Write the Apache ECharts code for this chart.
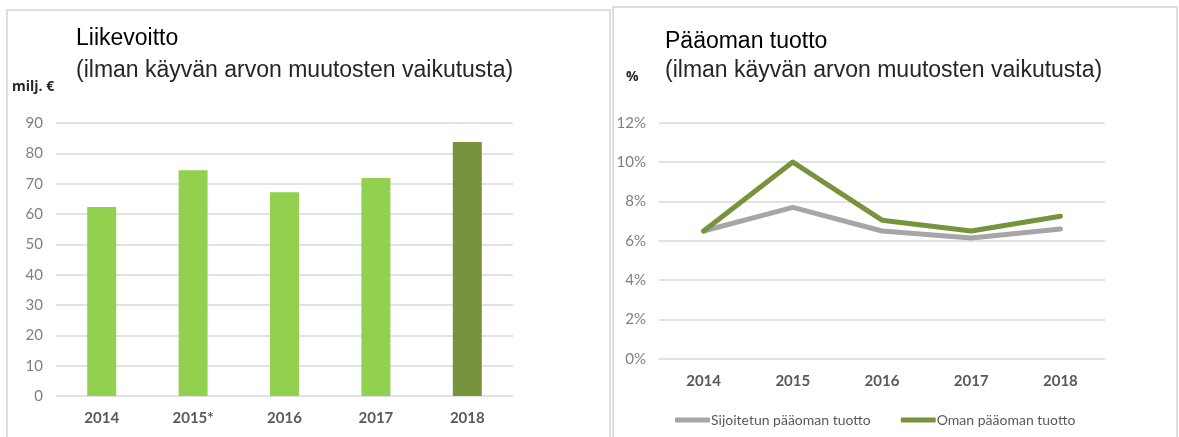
<!DOCTYPE html>
<html>
  <head>
    <meta charset="utf-8" />
    <title>Liikevoitto ja pääoman tuotto</title>
    <script src="https://cdn.jsdelivr.net/npm/echarts@6/dist/echarts.min.js"></script>
    <style>
      * {
        margin: 0;
        padding: 0;
      }
      html,
      body,
      #container {
        width: 1179px;
        height: 437px;
        background: #fff;
      }
    </style>
  </head>
  <body>
    <div id="container"></div>
    <script>
      // data
      const years = ["2014", "2015*", "2016", "2017", "2018"];
      const operatingProfit = [62.3, 74.4, 67.2, 71.9, 83.7]; // milj. €
      const barColors = ["#92d050", "#92d050", "#92d050", "#92d050", "#77933c"];

      const roiYears = ["2014", "2015", "2016", "2017", "2018"];
      const roiInvested = [6.5, 7.7, 6.5, 6.15, 6.6]; // Sijoitetun pääoman tuotto %
      const roiEquity = [6.5, 10.0, 7.05, 6.5, 7.25]; // Oman pääoman tuotto %

      const leftTicks = [0, 10, 20, 30, 40, 50, 60, 70, 80, 90];
      const rightTicks = [0, 2, 4, 6, 8, 10, 12];

      const chart = echarts.init(document.getElementById("container"));

      const axisLabelFont = { fontFamily: "Lato", fontSize: 15, color: "#7f7f7f" };
      const catLabelFont = { fontFamily: "Lato", fontSize: 15, fontWeight: "bold", color: "#595959" };
      const gridLine = { lineStyle: { color: "#d9d9d9", width: 1.5 } };

      chart.setOption({
        animation: false,
        textStyle: { fontFamily: "Liberation Sans" },
        graphic: [
          {
            type: "rect",
            shape: { x: 7, y: 10, width: 603, height: 450 },
            style: { fill: "none", stroke: "#dedede", lineWidth: 2 },
          },
          {
            type: "rect",
            shape: { x: 613, y: 7, width: 564, height: 450 },
            style: { fill: "none", stroke: "#dedede", lineWidth: 2 },
          },
          {
            type: "text",
            left: 12,
            top: 80,
            style: { text: "milj. €", font: "bold 14px 'Open Sans'", fill: "#262626" },
          },
          {
            type: "text",
            left: 626,
            top: 70,
            style: { text: "%", font: "bold 14px 'Open Sans'", fill: "#262626" },
          },
        ],
        title: [
          {
            text: "Liikevoitto",
            left: 76,
            top: 27,
            padding: 0,
            textStyle: { fontSize: 23, lineHeight: 23, fontWeight: "normal", color: "#000" },
          },
          {
            text: "(ilman käyvän arvon muutosten vaikutusta)",
            left: 76,
            top: 59,
            padding: 0,
            textStyle: { fontSize: 23, lineHeight: 23, fontWeight: "normal", color: "#262626" },
          },
          {
            text: "Pääoman tuotto",
            left: 665,
            top: 30,
            padding: 0,
            textStyle: { fontSize: 23, lineHeight: 23, fontWeight: "normal", color: "#000" },
          },
          {
            text: "(ilman käyvän arvon muutosten vaikutusta)",
            left: 665,
            top: 59,
            padding: 0,
            textStyle: { fontSize: 23, lineHeight: 23, fontWeight: "normal", color: "#262626" },
          },
        ],
        legend: {
          left: 670,
          top: 408,
          itemWidth: 35,
          itemHeight: 5,
          itemGap: 30,
          icon: "roundRect",
          data: ["Sijoitetun pääoman tuotto", "Oman pääoman tuotto"],
          textStyle: { fontFamily: "Lato", fontSize: 14, color: "#595959", padding: [0, 0, 0, -4] },
        },
        grid: [
          { left: 56, top: 123, width: 457, height: 273 },
          { left: 659, top: 122.7, width: 446, height: 236.3 },
        ],
        xAxis: [
          {
            type: "category",
            gridIndex: 0,
            data: years,
            axisLine: { show: false },
            axisTick: { show: false },
            axisLabel: Object.assign({ margin: 15 }, catLabelFont),
          },
          {
            type: "category",
            gridIndex: 1,
            data: roiYears,
            axisLine: { show: false },
            axisTick: { show: false },
            axisLabel: Object.assign({ margin: 15 }, catLabelFont),
          },
        ],
        yAxis: [
          {
            type: "value",
            gridIndex: 0,
            min: leftTicks[0],
            max: leftTicks[leftTicks.length - 1],
            interval: 10,
            splitLine: gridLine,
            axisLabel: Object.assign({ margin: 13 }, axisLabelFont),
          },
          {
            type: "value",
            gridIndex: 1,
            min: rightTicks[0],
            max: rightTicks[rightTicks.length - 1],
            interval: 2,
            splitLine: gridLine,
            axisLabel: Object.assign({ margin: 13, formatter: "{value}%" }, axisLabelFont),
          },
        ],
        series: [
          {
            name: "Liikevoitto",
            type: "bar",
            xAxisIndex: 0,
            yAxisIndex: 0,
            barWidth: 29,
            data: operatingProfit.map((v, i) => ({ value: v, itemStyle: { color: barColors[i] } })),
          },
          {
            name: "Sijoitetun pääoman tuotto",
            type: "line",
            xAxisIndex: 1,
            yAxisIndex: 1,
            symbol: "none",
            color: "#a6a6a6",
            lineStyle: { width: 5, color: "#a6a6a6", cap: "round", join: "round" },
            data: roiInvested,
          },
          {
            name: "Oman pääoman tuotto",
            type: "line",
            xAxisIndex: 1,
            yAxisIndex: 1,
            symbol: "none",
            color: "#77933c",
            lineStyle: { width: 5, color: "#77933c", cap: "round", join: "round" },
            data: roiEquity,
          },
        ],
      });
    </script>
  </body>
</html>
